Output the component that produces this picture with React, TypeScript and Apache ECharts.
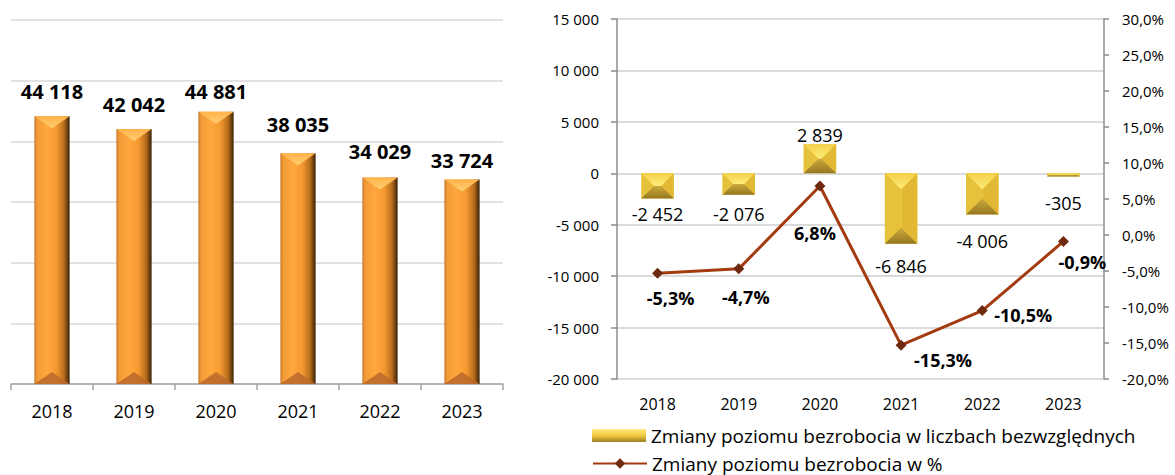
import React, { useEffect, useRef } from "react";
import * as echarts from "echarts";

const years = ["2018", "2019", "2020", "2021", "2022", "2023"];
const unemployed = [44118, 42042, 44881, 38035, 34029, 33724];
const changeAbs = [-2452, -2076, 2839, -6846, -4006, -305];
const changePct = [-5.3, -4.7, 6.8, -15.3, -10.5, -0.9];

const absName = "Zmiany poziomu bezrobocia w liczbach bezwzględnych";
const pctName = "Zmiany poziomu bezrobocia w %";

// label placement (px)
const unemployedLabelGap = [25, 24, 20, 29, 26, 19];
const changeAbsLabelGap = [15, 19, 9, 22, 27, 27];
const changePctLabelOffset = [
  [13, 25],
  [7, 28],
  [-5, 47],
  [42, 15],
  [41, 4],
  [19, 21],
];

const FONT = "'Open Sans', 'Liberation Sans', sans-serif";

const fmtNum = (n: number) =>
  (n < 0 ? "-" : "") + String(Math.abs(Math.round(n))).replace(/\B(?=(\d{3})+(?!\d))/g, " ");
const fmtPct = (n: number) => n.toFixed(1).replace(".", ",") + "%";

const LG = echarts.graphic.LinearGradient;

export default function App() {
  const ref = useRef<HTMLDivElement>(null);
  useEffect(() => {
    if (!ref.current) return;
    const chart = echarts.init(ref.current, undefined, { renderer: "svg" });

    const leftRender = (params: any, api: any) => {
      const i = api.value(0);
      const v = api.value(1);
      const base = api.coord([i, 0]);
      const top = api.coord([i, v]);
      const bw = api.size([1, 0])[0] * 0.43;
      const xc = base[0];
      const x0 = xc - bw / 2;
      const x1 = xc + bw / 2;
      const y0 = top[1];
      const y1 = base[1];
      const d = 12;
      return {
        type: "group",
        children: [
          {
            type: "rect",
            shape: { x: x0, y: y0, width: bw, height: y1 - y0 },
            style: {
              fill: new LG(0, 0, 1, 0, [
                { offset: 0, color: "#C47A2E" },
                { offset: 0.08, color: "#F29A36" },
                { offset: 0.35, color: "#FFA83E" },
                { offset: 0.62, color: "#F59A32" },
                { offset: 0.84, color: "#B86C1C" },
                { offset: 1, color: "#3A2105" },
              ]),
            },
          },
          {
            type: "polygon",
            shape: { points: [[x0, y0], [x1, y0], [xc, y0 + d]] },
            style: {
              fill: new LG(0, 0, 0, 1, [
                { offset: 0, color: "#FFB24A" },
                { offset: 1, color: "#FFCF70" },
              ]),
            },
          },
          {
            type: "polygon",
            shape: { points: [[x0, y1], [x1, y1], [xc, y1 - d]] },
            style: { fill: "#B8692A", opacity: 0.85 },
          },
          {
            type: "text",
            x: xc,
            y: y0 - unemployedLabelGap[i],
            style: {
              text: fmtNum(v),
              align: "center",
              verticalAlign: "middle",
              fill: "#000",
              fontSize: 20,
              fontWeight: "bold",
              fontFamily: FONT,
            },
          },
        ],
      };
    };

    const rightRender = (params: any, api: any) => {
      const i = api.value(0);
      const v = api.value(1);
      const base = api.coord([i, 0]);
      const end = api.coord([i, v]);
      const bw = api.size([1, 0])[0] * 0.4;
      const xc = base[0];
      const x0 = xc - bw / 2;
      const x1 = xc + bw / 2;
      const y0 = Math.min(base[1], end[1]);
      const y1 = Math.max(base[1], end[1]);
      const h = y1 - y0;
      const d = Math.min(bw / 2, h / 2, 16);
      const labelY = v < 0 ? y1 + changeAbsLabelGap[i] : y0 - changeAbsLabelGap[i];
      return {
        type: "group",
        children: [
          {
            type: "rect",
            shape: { x: x0, y: y0, width: bw, height: h },
            style: { fill: "#F8D548" },
          },
          {
            type: "polygon",
            shape: { points: [[x0, y0], [x1, y0], [x1 - d, y0 + d], [x0 + d, y0 + d]] },
            style: {
              fill: new LG(0, 0, 0, 1, [
                { offset: 0, color: "#F3D04A" },
                { offset: 1, color: "#FFEC78" },
              ]),
            },
          },
          {
            type: "polygon",
            shape: { points: [[x0, y0], [x0 + d, y0 + d], [x0 + d, y1 - d], [x0, y1]] },
            style: { fill: "#E6C13C" },
          },
          {
            type: "polygon",
            shape: { points: [[x1, y0], [x1 - d, y0 + d], [x1 - d, y1 - d], [x1, y1]] },
            style: { fill: "#E2B934" },
          },
          {
            type: "polygon",
            shape: { points: [[x0, y1], [x1, y1], [x1 - d, y1 - d], [x0 + d, y1 - d]] },
            style: {
              fill: new LG(0, 0, 0, 1, [
                { offset: 0, color: "#CDAA3A" },
                { offset: 1, color: "#957722" },
              ]),
            },
          },
          {
            type: "text",
            x: xc,
            y: labelY,
            style: {
              text: fmtNum(v),
              align: "center",
              verticalAlign: "middle",
              fill: "#000",
              fontSize: 18,
              fontFamily: FONT,
            },
          },
        ],
      };
    };

    const goldIcon = new LG(0, 0, 0, 1, [
      { offset: 0, color: "#FFEB80" },
      { offset: 0.5, color: "#F0C93E" },
      { offset: 1, color: "#A08024" },
    ]);

    const legendBase = {
      left: 592,
      padding: 0,
      itemWidth: 54,
      itemHeight: 13,
      selectedMode: false,
      textStyle: { fontSize: 19, color: "#000", fontFamily: FONT },
    };

    chart.setOption({
      animation: false,
      textStyle: { fontFamily: FONT },
      grid: [
        { left: 11, top: 20, width: 492, height: 364 },
        { left: 617, top: 19, width: 487, height: 360 },
      ],
      legend: [
        { ...legendBase, top: 426, data: [{ name: absName, icon: "rect", itemStyle: { color: goldIcon } }] },
        { ...legendBase, top: 454, data: [{ name: pctName }] },
      ],
      xAxis: [
        {
          type: "category",
          gridIndex: 0,
          data: years,
          axisLine: { lineStyle: { color: "#A6A6A6", width: 1.5 } },
          axisTick: { show: true, length: 6, lineStyle: { color: "#A6A6A6", width: 1.5 } },
          axisLabel: { fontSize: 18, color: "#000", margin: 18, fontFamily: FONT },
        },
        {
          type: "category",
          gridIndex: 1,
          data: years,
          axisLine: { show: false, onZero: false },
          axisTick: { show: false },
          axisLabel: { fontSize: 16, color: "#000", margin: 17, fontFamily: FONT },
        },
      ],
      yAxis: [
        {
          type: "value",
          gridIndex: 0,
          min: 0,
          max: 60000,
          interval: 10000,
          axisLabel: { show: false },
          axisLine: { show: false },
          axisTick: { show: false },
          splitLine: { lineStyle: { color: "#D9D9D9", width: 1.5 } },
        },
        {
          type: "value",
          gridIndex: 1,
          position: "left",
          min: -20000,
          max: 15000,
          interval: 5000,
          axisLine: { show: true, onZero: false, lineStyle: { color: "#8C8C8C", width: 1.5 } },
          axisTick: { show: true, length: 6, lineStyle: { color: "#8C8C8C", width: 1.5 } },
          axisLabel: { fontSize: 15, color: "#000", margin: 18, formatter: (v: number) => fmtNum(v), fontFamily: FONT },
          splitLine: { lineStyle: { color: "#CFCFCF", width: 1.5 } },
        },
        {
          type: "value",
          gridIndex: 1,
          position: "right",
          min: -20,
          max: 30,
          interval: 5,
          axisLine: { show: true, onZero: false, lineStyle: { color: "#8C8C8C", width: 1.5 } },
          axisTick: { show: true, length: 5, lineStyle: { color: "#8C8C8C", width: 1.5 } },
          axisLabel: { fontSize: 15, color: "#000", margin: 18, formatter: (v: number) => fmtPct(v), fontFamily: FONT },
          splitLine: { show: false },
        },
      ],
      series: [
        {
          type: "custom",
          name: "Bezrobotni",
          xAxisIndex: 0,
          yAxisIndex: 0,
          renderItem: leftRender,
          encode: { x: 0, y: 1 },
          data: unemployed.map((v, i) => [i, v]),
          clip: false,
        },
        {
          type: "custom",
          name: absName,
          xAxisIndex: 1,
          yAxisIndex: 1,
          renderItem: rightRender,
          itemStyle: { color: goldIcon },
          encode: { x: 0, y: 1 },
          data: changeAbs.map((v, i) => [i, v]),
          clip: false,
        },
        {
          type: "line",
          name: pctName,
          xAxisIndex: 1,
          yAxisIndex: 2,
          z: 5,
          symbol: "diamond",
          symbolSize: 11,
          lineStyle: { color: "#A33A10", width: 3 },
          itemStyle: { color: "#6E2A0E" },
          label: {
            show: true,
            position: "inside",
            fontSize: 18,
            fontWeight: "bold",
            color: "#000",
            fontFamily: FONT,
            formatter: (p: any) => fmtPct(p.value),
          },
          data: changePct.map((v, i) => ({ value: v, label: { offset: changePctLabelOffset[i] } })),
        },
      ],
    });
    return () => chart.dispose();
  }, []);
  return (
    <div
      ref={ref}
      style={{ position: "fixed", left: 0, top: 0, width: 1175, height: 475, background: "#fff" }}
    />
  );
}
